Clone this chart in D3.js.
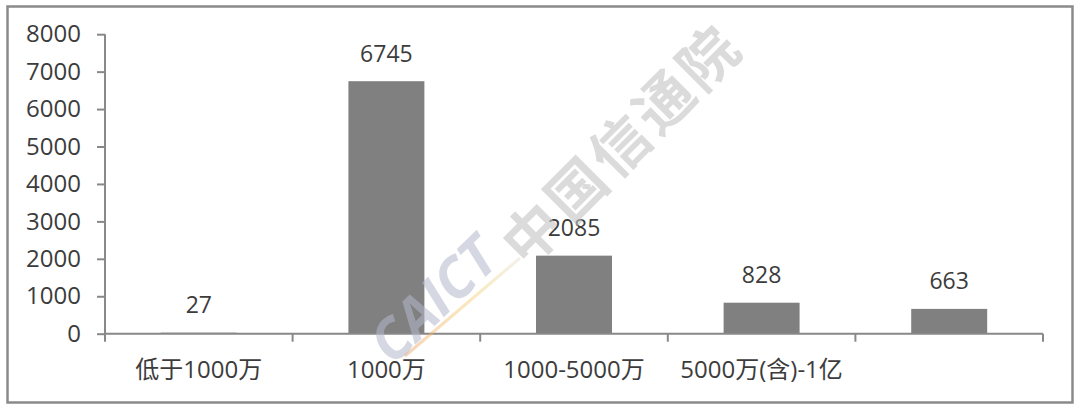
<!DOCTYPE html>
<html>

<head>
    <meta charset=utf-8 />
    <script src="https://cdn.jsdelivr.net/npm/d3@7"></script>
    <title>bar chart</title>
    <style>
        html,
        body {
            margin: 0;
            padding: 0;
            background: #fff;
        }

        svg {
            display: block;
            font-family: "Open Sans", "Noto Sans CJK SC", sans-serif;
        }

        .axis path,
        .axis line {
            stroke: #888;
            stroke-width: 2px;
        }

        .axis text {
            fill: #3c3c3c;
            font-size: 24px;
            font-family: "Open Sans", "Noto Sans CJK SC", sans-serif;
        }
    </style>
</head>

<body>
    <svg width="1080" height="411"></svg>
    <script>
        // data
        var categories = ['低于1000万', '1000万', '1000-5000万', '5000万(含)-1亿', ''];
        var values = [27, 6745, 2085, 828, 663];
        var yTicks = [0, 1000, 2000, 3000, 4000, 5000, 6000, 7000, 8000];

        var svg = d3.select('svg');

        // outer frame
        svg.append('rect')
            .attr('x', 7.5)
            .attr('y', 6.5)
            .attr('width', 1065)
            .attr('height', 396)
            .attr('fill', '#fff')
            .attr('stroke', '#8a8a8a')
            .attr('stroke-width', 2.5);

        var plotLeft = 105, plotRight = 1043, plotTop = 34.2, plotBottom = 333.7;

        var x = d3.scaleBand()
            .domain(categories.map(function (d, i) { return i; }))
            .range([plotLeft, plotRight])
            .paddingInner(0.595)
            .paddingOuter(0.2975);

        var y = d3.scaleLinear()
            .domain([0, 8000])
            .range([plotBottom, plotTop]);

        // bars
        svg.append('g')
            .selectAll('rect')
            .data(values)
            .enter().append('rect')
            .attr('x', function (d, i) { return x(i); })
            .attr('y', function (d) { return y(d); })
            .attr('width', x.bandwidth())
            .attr('height', function (d) { return plotBottom - y(d); })
            .attr('fill', '#808080');

        // value labels
        svg.append('g')
            .selectAll('text')
            .data(values)
            .enter().append('text')
            .attr('x', function (d, i) { return x(i) + x.bandwidth() / 2; })
            .attr('y', function (d) { return y(d) - 19.5; })
            .attr('text-anchor', 'middle')
            .attr('fill', '#3c3c3c')
            .style('font-size', '23px')
            .text(function (d) { return d; });

        // y axis
        svg.append('g')
            .attr('class', 'axis')
            .attr('transform', 'translate(' + plotLeft + ',0)')
            .call(d3.axisLeft(y).tickValues(yTicks).tickFormat(d3.format('d'))
                .tickSize(8).tickPadding(16).tickSizeOuter(0))
            .call(function (g) { g.select('.domain').attr('d', 'M0,' + plotTop + 'V' + plotBottom); });

        // x axis: labels centred, ticks on category borders
        var step = x.step();
        var xAxis = svg.append('g')
            .attr('class', 'axis')
            .attr('transform', 'translate(0,' + plotBottom + ')');

        xAxis.append('path')
            .attr('d', 'M' + plotLeft + ',0H' + plotRight)
            .attr('fill', 'none');

        xAxis.selectAll('line.border')
            .data(d3.range(categories.length + 1))
            .enter().append('line')
            .attr('class', 'border')
            .attr('x1', function (d) { return plotLeft + d * step; })
            .attr('x2', function (d) { return plotLeft + d * step; })
            .attr('y1', 0)
            .attr('y2', 8);

        xAxis.selectAll('text')
            .data(categories)
            .enter().append('text')
            .attr('x', function (d, i) { return x(i) + x.bandwidth() / 2; })
            .attr('y', 44)
            .attr('text-anchor', 'middle')
            .text(function (d) { return d; });

        // watermark
        var wm = svg.append('g').attr('pointer-events', 'none');

        var grad = svg.append('defs').append('linearGradient')
            .attr('id', 'wmline')
            .attr('x1', '0%').attr('x2', '100%');
        grad.append('stop').attr('offset', '0%').attr('stop-color', '#f0a060');
        grad.append('stop').attr('offset', '60%').attr('stop-color', '#f5d070');
        grad.append('stop').attr('offset', '100%').attr('stop-color', '#e8e0d0');

        wm.append('line')
            .attr('x1', 405).attr('y1', 356)
            .attr('x2', 520).attr('y2', 258)
            .attr('stroke', 'url(#wmline)')
            .attr('stroke-width', 3)
            .attr('opacity', 0.45);

        wm.append('text')
            .attr('transform', 'translate(432,298) rotate(-44)')
            .attr('text-anchor', 'middle')
            .attr('dominant-baseline', 'central')
            .attr('fill', '#b4b8cc')
            .attr('opacity', 0.55)
            .style('font-size', '56px')
            .style('font-weight', 'bold')
            .style('font-style', 'italic')
            .style('font-family', '"Open Sans", sans-serif')
            .text('CAICT');

        wm.append('text')
            .attr('transform', 'translate(619,142) rotate(-45)')
            .attr('text-anchor', 'middle')
            .attr('dominant-baseline', 'central')
            .attr('fill', '#c4c4c4')
            .attr('opacity', 0.6)
            .style('font-size', '58px')
            .style('font-weight', 'bold')
            .style('letter-spacing', '4px')
            .style('font-family', '"Noto Sans CJK SC", sans-serif')
            .text('中国信通院');
    </script>
</body>

</html>
